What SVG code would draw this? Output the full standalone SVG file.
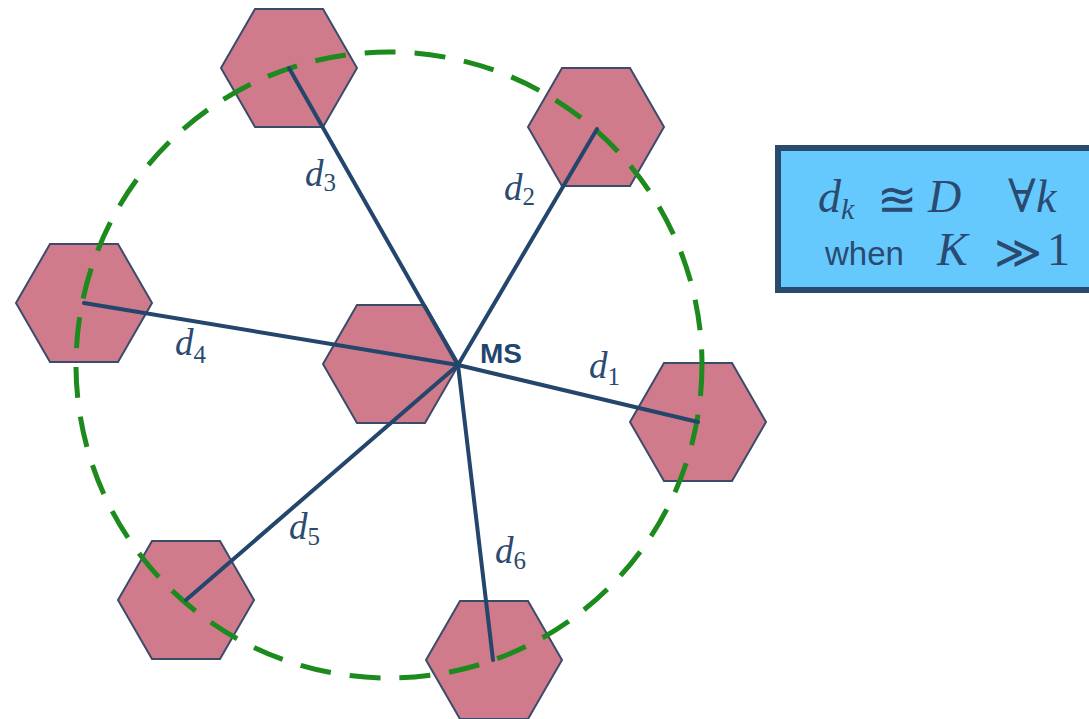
<svg xmlns="http://www.w3.org/2000/svg" xmlns:xlink="http://www.w3.org/1999/xlink" width="1089" height="719" viewBox="0 0 1089 719">
<style>
.hex{fill:#cf7b8b;stroke:#3a4b6b;stroke-width:2;stroke-linejoin:miter}
.conn{stroke:#24466c;stroke-width:4;stroke-linecap:round;fill:none}
.ring{fill:none;stroke:#1c8a1c;stroke-width:5;stroke-dasharray:31 19}
.lbl{font-family:"Liberation Serif","DejaVu Serif",serif;font-style:italic;font-size:37px;fill:#2b4a70}
.sub{font-size:25px;font-style:normal}
.ms{font-family:"Liberation Sans",Arial,sans-serif;font-weight:bold;font-size:28px;fill:#1f4670}
.box{fill:#66c9fe;stroke:#284b6d;stroke-width:6}
.math{font-family:"Liberation Serif","DejaVu Serif",serif;font-size:46px;fill:#2b4a70}
.sym{font-family:"DejaVu Serif",serif;fill:#2b4a70}
.sans{font-family:"Liberation Sans",Arial,sans-serif;font-size:33px;fill:#2b4a70}
</style>
<defs>
<path id="hx" d="M-68,0 L-34,-59 L34,-59 L68,0 L34,59 L-34,59 Z"/>
</defs>
<rect width="1089" height="719" fill="#ffffff"/>
<g id="hex-top"><use xlink:href="#hx" href="#hx" class="hex" transform="translate(289,68)"/></g>
<g id="hex-topright"><use xlink:href="#hx" href="#hx" class="hex" transform="translate(596,127)"/></g>
<g id="hex-left"><use xlink:href="#hx" href="#hx" class="hex" transform="translate(84,303)"/></g>
<g id="hex-center"><use xlink:href="#hx" href="#hx" class="hex" transform="translate(391,364)"/></g>
<g id="hex-right"><use xlink:href="#hx" href="#hx" class="hex" transform="translate(698,422)"/></g>
<g id="hex-bottomleft"><use xlink:href="#hx" href="#hx" class="hex" transform="translate(186,600)"/></g>
<g id="hex-bottom"><use xlink:href="#hx" href="#hx" class="hex" transform="translate(494,660)"/></g>
<g id="ring"><circle class="ring" cx="389" cy="365" r="313"/></g>
<g id="connectors">
<line class="conn" x1="458" y1="365" x2="698" y2="422"/>
<line class="conn" x1="458" y1="365" x2="597" y2="129"/>
<line class="conn" x1="458" y1="365" x2="289" y2="68"/>
<line class="conn" x1="458" y1="365" x2="84" y2="303"/>
<line class="conn" x1="458" y1="365" x2="186" y2="600"/>
<line class="conn" x1="458" y1="365" x2="493" y2="660"/>
</g>
<g id="labels">
<text class="lbl" x="589" y="378">d<tspan class="sub" dy="7">1</tspan></text>
<text class="lbl" x="504" y="200">d<tspan class="sub" dy="5">2</tspan></text>
<text class="lbl" x="305" y="186">d<tspan class="sub" dy="5">3</tspan></text>
<text class="lbl" x="175" y="355">d<tspan class="sub" dy="8">4</tspan></text>
<text class="lbl" x="289" y="539">d<tspan class="sub" dy="6">5</tspan></text>
<text class="lbl" x="495" y="563">d<tspan class="sub" dy="6">6</tspan></text>
</g>
<g id="ms"><text class="ms" x="480" y="363">MS</text></g>
<g id="formula-box">
<rect class="box" x="778" y="148" width="320" height="142"/>
<text class="math" x="818" y="212"><tspan font-style="italic">d</tspan><tspan font-size="30" font-style="italic" dy="7">k</tspan></text>
<text class="sym" x="877" y="216" font-size="48">≊</text>
<text class="math" x="928" y="212" font-style="italic">D</text>
<text class="math" x="1008" y="212">∀</text>
<text class="math" x="1036" y="212" font-style="italic">k</text>
<text class="sans" x="825" y="265">when</text>
<text class="math" x="937" y="265" font-style="italic">K</text>
<text class="sym" x="994" y="268" font-size="46">≫</text>
<text class="math" x="1047" y="265">1</text>
</g>
</svg>
